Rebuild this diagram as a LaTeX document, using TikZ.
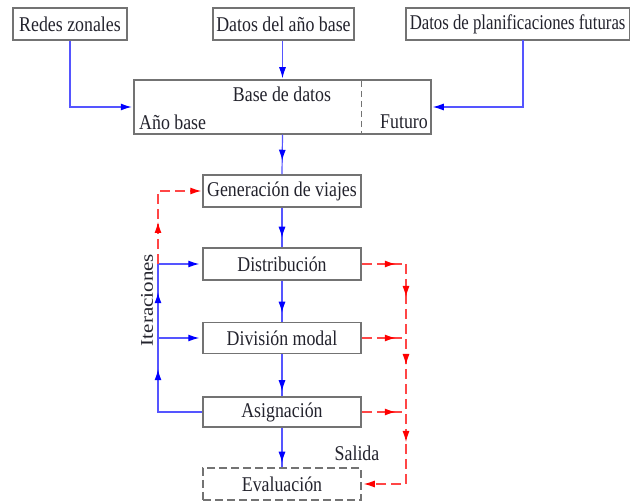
\documentclass[tikz,border=0pt]{standalone}
\usepackage{fontspec}
\setmainfont[FakeStretch=0.85]{Liberation Serif}
\newfontfamily\plainserif{Liberation Serif}
\usetikzlibrary{arrows.meta,decorations.markings,calc}
\definecolor{boxgray}{RGB}{115,115,115}
\definecolor{lblue}{RGB}{85,85,255}
\definecolor{lred}{RGB}{255,70,70}
\definecolor{txt}{RGB}{35,35,45}
\begin{document}
\begin{tikzpicture}[x=1pt,y=-1pt,
  txtfont/.style={font=\fontsize{21}{24}\selectfont, text=txt},
  box/.style={draw=boxgray, line width=1.5pt, minimum height=32pt, inner sep=0pt, txtfont},
  procbox/.style={box, minimum width=158pt},
  bl/.style={draw=lblue, line width=1.2pt},
  rl/.style={draw=lred, line width=1.2pt, dash pattern=on 10pt off 5pt},
  btip/.style={-{Latex[length=11pt,width=7pt,color=blue]}},
  rtip/.style={-{Latex[length=11pt,width=7pt,color=red]}},
  bmark/.style={postaction={decorate}, decoration={markings, mark=at position #1 with {\arrow{Latex[length=11pt,width=7pt,color=blue]}}}},
  rmark/.style={postaction={decorate}, decoration={markings, mark=at position #1 with {\arrow{Latex[length=11pt,width=7pt,color=red]}}}},
  bmarktwo/.style 2 args={postaction={decorate}, decoration={markings,
     mark=at position #1 with {\arrow{Latex[length=11pt,width=7pt,color=blue]}},
     mark=at position #2 with {\arrow{Latex[length=11pt,width=7pt,color=blue]}}}},
  rmarkthree/.style={postaction={decorate}, decoration={markings,
     mark=at position 33pt with {\arrow{Latex[length=11pt,width=7pt,color=red]}},
     mark=at position 101pt with {\arrow{Latex[length=11pt,width=7pt,color=red]}},
     mark=at position 178pt with {\arrow{Latex[length=11pt,width=7pt,color=red]}}}},
]
\fill[white] (0,0) rectangle (633,502);
\useasboundingbox (0,0) rectangle (633,502);

% top input boxes
\node[box, minimum width=114pt] (redes) at (70,24) {Redes zonales};
\node[box, minimum width=141pt] (datos) at (283.5,24) {Datos del año base};
\node[box, anchor=west, inner xsep=4pt] (plan) at (405,24) {\scalebox{0.94}[1]{Datos de planificaciones futuras}\hspace{12pt}};

% database box
\node[box, minimum width=297pt, minimum height=54pt] (base) at (282.5,107) {};
\draw[draw=boxgray, line width=1pt, dash pattern=on 6pt off 4pt] (361,81) coordinate (dtop) -- (361,133) coordinate (dbot);
\node[txtfont, inner sep=0pt] (basetxt) at (282,94) {Base de datos};
\node[txtfont, inner sep=0pt, anchor=west] (anobase) at (139,122) {Año base};
\node[txtfont, inner sep=0pt, anchor=east] (futuro) at (428,122) {Futuro};

% process boxes
\node[procbox] (gen) at (282,191) {Generación de viajes};
\node[procbox] (dist) at (282,264) {Distribución};
\node[procbox, minimum height=31pt] (div) at (282,338) {División modal};
\node[procbox, minimum height=30pt] (asig) at (282,412) {Asignación};
\node[procbox, dashed, dash pattern=on 8pt off 4pt] (eval) at (282,484) {Evaluación};

% labels
\node[inner sep=0pt, rotate=90, text=txt] (iter) at (147,300) {\scalebox{1}[0.85]{\plainserif\fontsize{21}{24}\selectfont Iteraciones}};
\node[txtfont, inner sep=0pt] (salida) at (357,453) {Salida};

% input connectors
\draw[bl, btip, shorten >=1.5pt] (redes.south) -- (redes.south |- base.west) -- (base.west);
\draw[bl, btip, shorten >=1pt] (datos.south -| base.north) -- (base.north);
\coordinate (planx) at (523,40);
\draw[bl, btip, shorten >=1pt] (planx) -- (planx |- base.east) -- (base.east);

% main flow
\draw[bl, bmark=26pt] (base.south) -- (gen.north);
\draw[bl, bmark=30pt] (gen.south) -- (dist.north);
\draw[bl, bmark=32pt] (dist.south) -- (div.north);
\draw[bl, bmark=37pt] (div.south) -- (asig.north);
\draw[bl, bmark=35pt] (asig.south) -- (eval.north);

% blue feedback (iterations)
\coordinate (la) at (158,412);
\coordinate (ld) at (158,338);
\coordinate (lt) at (158,264);
\coordinate (lg) at (158,191);
\draw[bl, bmarktwo={87pt}{164pt}] (asig.west) -- (la) -- (lt);
\draw[bl, btip, shorten >=3pt] (ld) -- (div.west);
\draw[bl, btip, shorten >=3pt] (lt) -- (dist.west);

% red feedback to generation
\draw[rl, rtip, rmark=42pt, shorten >=1pt] (lt) -- (lg) -- (gen.west);

% red output path
\coordinate (rt) at (406,264);
\coordinate (rd) at (406,338);
\coordinate (ra) at (406,412);
\coordinate (re) at (406,484);
\draw[rl, rmark=34pt] (dist.east) -- (rt);
\draw[rl, rmark=34pt] (div.east) -- (rd);
\draw[rl, rmark=34pt] (asig.east) -- (ra);
\draw[rl, rtip, rmarkthree, shorten >=2pt] (rt) -- (re) -- (eval.east);
\end{tikzpicture}
\end{document}
